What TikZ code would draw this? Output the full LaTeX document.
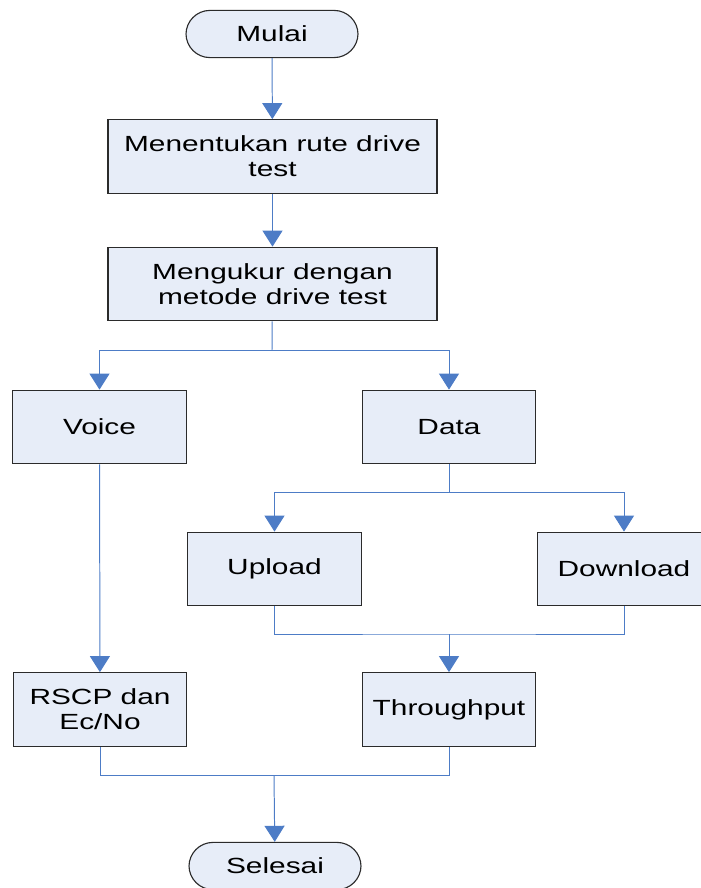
\documentclass[tikz,border=0pt]{standalone}
\usepackage{fontspec}
\setmainfont{Liberation Sans}[FakeStretch=1.36]
\usetikzlibrary{arrows.meta, positioning, calc}
\definecolor{boxc}{HTML}{E7EDF8}
\definecolor{linec}{HTML}{4D7CC6}
\definecolor{edgec}{HTML}{2B2B2B}
\tikzset{
  stepbox/.style={rectangle, draw=edgec, fill=boxc, line width=0.8pt,
        align=center, inner sep=2pt, minimum width=4.33cm, minimum height=1.84cm},
  widebox/.style={stepbox, minimum width=8.22cm},
  term/.style={stepbox, rounded corners=0.6cm, minimum width=4.3cm,
        minimum height=1.18cm},
  flow/.style={linec, line width=0.7pt},
  arr/.style={flow, -{Triangle[width=0.5cm, length=0.4cm]}}
}

\begin{document}
\begin{tikzpicture}[x=0.025cm, y=-0.025cm,
          font=\fontsize{15.6}{17.8}\selectfont]
        \useasboundingbox (0,0) rectangle (700,888);
        \node[term] (mulai) at (272,34) {Mulai};
        \node[widebox] (rute) at (272.5,156.5) {Menentukan rute drive\\test};
        \node[widebox] (ukur) at (272.5,284) {Mengukur dengan\\metode drive test};
        \foreach \n/\x/\y/\t in {voice/99.5/427/Voice, data/449/427/Data,
            upload/274.5/569/Upload, download/624/569/Download,
            rscp/100/709.5/{RSCP dan\\Ec/No}, thru/449/709.5/Throughput}{
          \node[stepbox] (\n) at (\x,\y) {\t};
        }
        \node[term] (selesai) at (275,866) {Selesai};
        % branch points
        \coordinate (s1) at (272,350);
        \coordinate (s2) at (449,492);
        \coordinate (j1) at (449,634);
        \coordinate (j2) at (274,775);
        \draw[arr] (mulai) -- (rute);
        \draw[arr] (rute) -- (ukur);
        \draw[flow] (ukur) -- (s1);
        \draw[arr] (s1) -| (voice);
        \draw[arr] (s1) -| (data);
        \draw[flow] (data) -- (s2);
        \draw[arr] (s2) -| (upload);
        \draw[arr] (s2) -| (download);
        \draw[flow] (upload.south) |- (j1) -| (download.south);
        \draw[arr] (j1) -- (thru);
        \draw[arr] (voice) -- (rscp);
        \draw[flow] (rscp.south) |- (j2) -| (thru.south);
        \draw[arr] (j2) -- (selesai);
      \end{tikzpicture}
\end{document}
